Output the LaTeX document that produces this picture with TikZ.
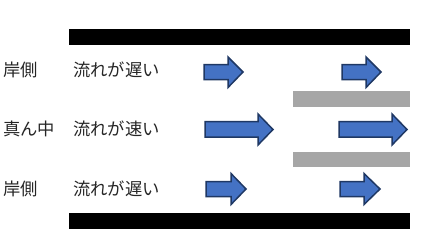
\documentclass[tikz,border=0pt]{standalone}
\usepackage{fontspec}
\newfontfamily\jpfont{Noto Sans CJK JP}
\begin{document}
\begin{tikzpicture}[x=1pt,y=-1pt,
  wall/.style={fill=black,draw=none},
  plate/.style={fill=black!35,draw=none},
  arr/.style={fill=arrowblue,draw=arrowedge,line width=1.5pt,line join=miter},
  lbl/.style={anchor=west,inner sep=0pt,font=\jpfont\fontsize{17.3}{19}\selectfont,text=black!85}]
\definecolor{arrowblue}{HTML}{4472C4}
\definecolor{arrowedge}{HTML}{1F3864}
\useasboundingbox (0,0) rectangle (435,249);
% walls
\fill[wall] (69,29) rectangle (410,45);
\fill[wall] (69,213) rectangle (410,229);
% plates
\fill[plate] (293,91) rectangle (410,107);
\fill[plate] (293,152) rectangle (410,167);
% labels
\node[lbl] (s1) at (3,70) {岸側};
\node[lbl] (m) at (3,129) {真ん中};
\node[lbl] (s2) at (3,189) {岸側};
\node[lbl] (t1) at (73,70) {流れが遅い};
\node[lbl] (t2) at (73,129) {流れが速い};
\node[lbl] (t3) at (73,189) {流れが遅い};
% arrows row 1
\draw[arr] (204,64.5) -- (228,64.5) -- (228,57) -- (243,72) -- (228,87.5) -- (228,79.5) -- (204,79.5) -- cycle;
\draw[arr] (342,64.5) -- (366,64.5) -- (366,57) -- (381,72) -- (366,87.5) -- (366,79.5) -- (342,79.5) -- cycle;
% arrows row 2
\draw[arr] (205,121.5) -- (258,121.5) -- (258,114) -- (273,129.5) -- (258,145) -- (258,137) -- (205,137) -- cycle;
\draw[arr] (339,121.5) -- (392,121.5) -- (392,114) -- (407,129.5) -- (392,145) -- (392,137) -- (339,137) -- cycle;
% arrows row 3
\draw[arr] (206,181.5) -- (231,181.5) -- (231,173.5) -- (246,189) -- (231,204.5) -- (231,196.5) -- (206,196.5) -- cycle;
\draw[arr] (340,181.5) -- (364,181.5) -- (364,173.5) -- (380,189) -- (364,204.5) -- (364,196.5) -- (340,196.5) -- cycle;
\end{tikzpicture}
\end{document}
